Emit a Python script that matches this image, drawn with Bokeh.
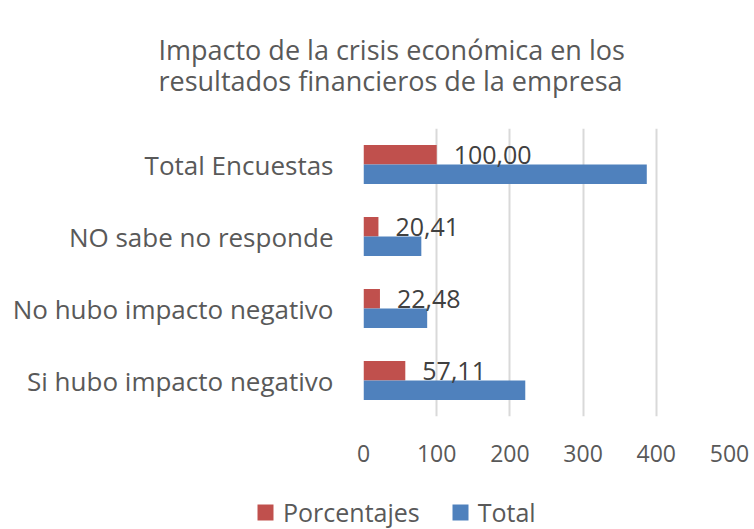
from bokeh.plotting import figure
from bokeh.models import (ColumnDataSource, FactorRange, Range1d, Legend,
                          LegendItem, FixedTicker, Title)
from bokeh.layouts import column
from bokeh.transform import dodge
from bokeh.embed import file_html
from bokeh.resources import INLINE

categories = ["Si hubo impacto negativo", "No hubo impacto negativo",
              "NO sabe no responde", "Total Encuestas"]
porcentajes = [57.11, 22.48, 20.41, 100.00]
total = [221, 87, 79, 387]
pct_labels = ["57,11", "22,48", "20,41", "100,00"]
x_ticks = [0, 100, 200, 300, 400, 500]
series_names = ["Porcentajes", "Total"]
title_lines = ["Impacto de la crisis económica en los",
               "resultados financieros de la empresa"]

FONT = "Open Sans"
GRAY = "#595959"
RED = "#c0504d"
BLUE = "#4f81bd"

src = ColumnDataSource(dict(cat=categories, pct=porcentajes, tot=total, lab=pct_labels))

p = figure(width=754, height=493, y_range=FactorRange(factors=categories),
           x_range=Range1d(0, 500), output_backend="svg", toolbar_location=None,
           min_border_left=363, min_border_right=25, min_border_top=122,
           min_border_bottom=77)
p.outline_line_color = None
p.background_fill_color = "white"

p.hbar(y=dodge("cat", 0.135, range=p.y_range), right="pct", left=0, height=0.27,
       source=src, fill_color=RED, line_color=None)
p.hbar(y=dodge("cat", -0.135, range=p.y_range), right="tot", left=0, height=0.27,
       source=src, fill_color=BLUE, line_color=None)

p.text(x="pct", y=dodge("cat", 0.135, range=p.y_range), text="lab", source=src,
       x_offset=17, text_align="left", text_baseline="middle",
       text_font_size="25px", text_color="#404040", text_font={"value": FONT})

p.xaxis.ticker = FixedTicker(ticks=x_ticks)
p.xaxis.axis_line_color = None
p.xaxis.major_tick_line_color = None
p.xaxis.minor_tick_line_color = None
p.xaxis.major_label_text_font = FONT
p.xaxis.major_label_text_font_size = "23px"
p.xaxis.major_label_text_color = GRAY
p.xaxis.major_label_standoff = 22

p.yaxis.axis_line_color = None
p.yaxis.major_tick_line_color = None
p.yaxis.minor_tick_line_color = None
p.yaxis.major_label_text_font = FONT
p.yaxis.major_label_text_font_size = "26px"
p.yaxis.major_label_text_color = GRAY
p.yaxis.major_label_standoff = 24

p.xgrid.grid_line_color = "#d9d9d9"
p.xgrid.grid_line_width = 2
p.ygrid.grid_line_color = None

title = Title(text="\n".join(title_lines), align="left", offset=-205, text_font=FONT,
              text_font_size="27px", text_font_style="normal", text_color=GRAY,
              text_line_height=0.85, standoff=58)
p.add_layout(title, "above")

# legend strip below the chart (swatch renderers are zero-width, invisible bars)
lg = figure(frame_width=754, frame_height=36, output_backend="svg", toolbar_location=None,
            x_axis_location=None, y_axis_location=None,
            x_range=Range1d(0, 1), y_range=Range1d(0, 1),
            min_border_left=0, min_border_right=0, min_border_top=0, min_border_bottom=0)
lg.outline_line_color = None
lg.xgrid.grid_line_color = None
lg.ygrid.grid_line_color = None
swatch = ColumnDataSource(dict(y=[0], left=[0], right=[0]))
s1 = lg.hbar(y="y", left="left", right="right", height=1, source=swatch,
             fill_color=RED, line_color=None)
s2 = lg.hbar(y="y", left="left", right="right", height=1, source=swatch,
             fill_color=BLUE, line_color=None)
legend = Legend(items=[LegendItem(label=series_names[0], renderers=[s1]),
                       LegendItem(label=series_names[1], renderers=[s2])],
                orientation="horizontal", location=(255, 0),
                border_line_color=None, background_fill_alpha=0,
                label_text_font=FONT, label_text_font_size="25px",
                label_text_color=GRAY, glyph_width=20, glyph_height=20,
                label_height=30, label_standoff=8, spacing=30, padding=0, margin=0)
lg.add_layout(legend, "center")

layout = column(p, lg, spacing=0)
open("out.html", "w").write(file_html(layout, INLINE))
